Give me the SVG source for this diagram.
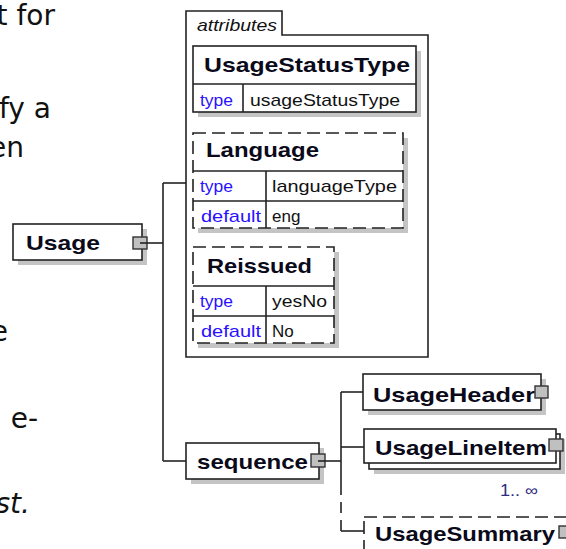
<svg xmlns="http://www.w3.org/2000/svg" width="566" height="549" viewBox="0 0 566 549">
<style>
.bg{fill:#fff}
.box{fill:#fff;stroke:#222;stroke-width:1.6}
.dbox{fill:#fff;stroke:#222;stroke-width:1.6;stroke-dasharray:13 6}
.sh{fill:#c4c4c4}
.ln{stroke:#222;stroke-width:1.6;fill:none}
.dl{stroke:#222;stroke-width:1.6;fill:none;stroke-dasharray:11 7}
.sq{fill:#c0c0c0;stroke:#333;stroke-width:1.4}
.nt{font-family:"Liberation Sans",Arial,sans-serif;font-weight:bold;font-size:21px;fill:#0a0a1a}
.kt{font-family:"Liberation Sans",Arial,sans-serif;font-size:17px;fill:#2a10ff}
.vt{font-family:"Liberation Sans",Arial,sans-serif;font-size:17px;fill:#111}
.it{font-family:"Liberation Sans",Arial,sans-serif;font-style:italic;font-size:17px;fill:#111}
.pt{font-family:"DejaVu Sans",Verdana,sans-serif;font-size:28px;fill:#111}
</style>
<rect class="bg" x="0" y="0" width="566" height="549"/>

<g id="page-text">
<text class="pt" x="55" y="25" text-anchor="end">t for</text>
<text class="pt" x="51" y="118" text-anchor="end">fy a</text>
<text class="pt" x="24" y="157" text-anchor="end">en</text>
<text class="pt" x="8" y="341" text-anchor="end">e</text>
<text class="pt" x="38" y="428" text-anchor="end">e-</text>
<text class="pt" x="30" y="513" text-anchor="end" font-style="italic">st.</text>
</g>

<g id="attributes">
<path class="ln" d="M186,357 V11 H282 V35 H428 V357 Z" fill="#fff"/>
<text class="it" x="197" y="31" textLength="80" lengthAdjust="spacingAndGlyphs">attributes</text>
</g>

<g id="UsageStatusType">
<rect class="sh" x="198" y="51" width="223" height="66"/>
<rect class="box" x="193" y="46" width="223" height="66"/>
<line class="ln" x1="193" y1="84" x2="416" y2="84"/>
<line class="ln" x1="243" y1="84" x2="243" y2="112"/>
<text class="nt" x="204" y="72" textLength="206" lengthAdjust="spacingAndGlyphs">UsageStatusType</text>
<text class="kt" x="200" y="106" textLength="33" lengthAdjust="spacingAndGlyphs">type</text>
<text class="vt" x="250" y="106" textLength="150" lengthAdjust="spacingAndGlyphs">usageStatusType</text>
</g>

<g id="Language">
<rect class="sh" x="198" y="138" width="210" height="95"/>
<rect class="dbox" x="193" y="133" width="210" height="95"/>
<line class="ln" x1="193" y1="171" x2="403" y2="171"/>
<line class="ln" x1="193" y1="201" x2="403" y2="201"/>
<line class="ln" x1="266" y1="171" x2="266" y2="228"/>
<text class="nt" x="206" y="157" textLength="113" lengthAdjust="spacingAndGlyphs">Language</text>
<text class="kt" x="200" y="192" textLength="33" lengthAdjust="spacingAndGlyphs">type</text>
<text class="vt" x="272" y="192" textLength="125" lengthAdjust="spacingAndGlyphs">languageType</text>
<text class="kt" x="201" y="222" textLength="60" lengthAdjust="spacingAndGlyphs">default</text>
<text class="vt" x="272" y="222">eng</text>
</g>

<g id="Reissued">
<rect class="sh" x="198" y="252" width="141" height="96"/>
<rect class="dbox" x="193" y="247" width="141" height="96"/>
<line class="ln" x1="193" y1="286" x2="334" y2="286"/>
<line class="ln" x1="193" y1="316" x2="334" y2="316"/>
<line class="ln" x1="266" y1="286" x2="266" y2="343"/>
<text class="nt" x="207" y="273" textLength="105" lengthAdjust="spacingAndGlyphs">Reissued</text>
<text class="kt" x="200" y="307" textLength="33" lengthAdjust="spacingAndGlyphs">type</text>
<text class="vt" x="272" y="307" textLength="55" lengthAdjust="spacingAndGlyphs">yesNo</text>
<text class="kt" x="201" y="337" textLength="60" lengthAdjust="spacingAndGlyphs">default</text>
<text class="vt" x="272" y="337">No</text>
</g>

<g id="Usage">
<rect class="sh" x="18" y="229" width="129" height="36"/>
<rect class="box" x="13" y="224" width="129" height="36"/>
<text class="nt" x="26" y="250" textLength="74" lengthAdjust="spacingAndGlyphs">Usage</text>
<rect class="sq" x="133" y="237" width="14" height="12"/>
</g>

<g id="sequence">
<rect class="sh" x="191" y="448" width="133" height="36"/>
<rect class="box" x="186" y="443" width="133" height="36"/>
<text class="nt" x="197" y="469" textLength="111" lengthAdjust="spacingAndGlyphs">sequence</text>
<rect class="sq" x="311" y="454" width="14" height="13"/>
</g>

<g id="UsageHeader">
<rect class="sh" x="368" y="379" width="178" height="36"/>
<rect class="box" x="363" y="374" width="178" height="36"/>
<text class="nt" x="373" y="402" textLength="162" lengthAdjust="spacingAndGlyphs">UsageHeader</text>
<rect class="sq" x="535" y="386" width="13" height="12"/>
</g>

<g id="UsageLineItem">
<rect class="sh" x="374" y="439" width="191" height="35"/>
<rect class="box" x="369" y="434" width="191" height="35"/>
<rect class="box" x="364" y="429" width="192" height="34"/>
<text class="nt" x="375" y="455" textLength="172" lengthAdjust="spacingAndGlyphs">UsageLineItem</text>
<rect class="sq" x="549" y="439" width="14" height="12"/>
<text x="500" y="496" font-family="Liberation Sans,Arial,sans-serif" font-size="16" fill="#2e2a80" textLength="38" lengthAdjust="spacingAndGlyphs">1.. ∞</text>
</g>

<g id="UsageSummary">
<rect class="dbox" x="364" y="517" width="215" height="50"/>
<text class="nt" x="375" y="541" textLength="180" lengthAdjust="spacingAndGlyphs">UsageSummary</text>
<rect class="sq" x="559" y="526" width="13" height="12"/>
</g>

<g id="connectors">
<path class="ln" d="M140,243 H163"/>
<path class="ln" d="M163,183 V461"/>
<path class="ln" d="M163,183 H186"/>
<path class="ln" d="M163,461 H186"/>
<path class="ln" d="M318,461 H341"/>
<path class="ln" d="M341,392 V484"/>
<path class="dl" d="M341,484 V531"/>
<path class="ln" d="M341,392 H363"/>
<path class="ln" d="M341,447 H364"/>
<path class="ln" d="M341,531 H364"/>
</g>
</svg>
